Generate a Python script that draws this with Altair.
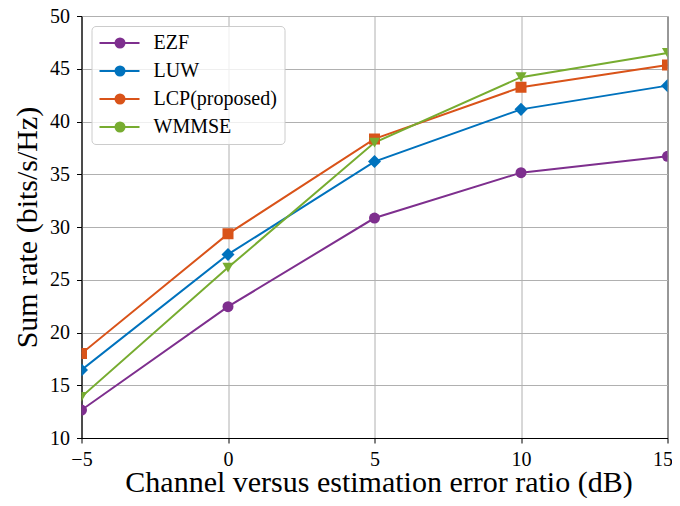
import altair as alt
import pandas as pd
import json

x_vals = [-5, 0, 5, 10, 15]
series_names = ["EZF", "LUW", "LCP(proposed)", "WMMSE"]
ezf = [12.65, 22.45, 30.85, 35.15, 36.7]
luw = [16.45, 27.4, 36.2, 41.15, 43.4]
lcp = [18.0, 29.35, 38.35, 43.25, 45.35]
wmmse = [13.9, 26.15, 38.0, 44.2, 46.5]
y_ticks = [10, 15, 20, 25, 30, 35, 40, 45, 50]

colors = ["#7E2F8E", "#0072BD", "#D95319", "#77AC30"]
shapes = ["circle", "diamond", "square", "triangle-down"]
marker_sizes = [121, 170, 121, 125]
series_ids = ["s%d" % i for i in range(len(series_names))]

rows = []
for name, vals in zip(series_names, [ezf, luw, lcp, wmmse]):
    for xv, yv in zip(x_vals, vals):
        rows.append({"x": xv, "y": yv, "series": name})
df = pd.DataFrame(rows)

FONT = "Liberation Serif"

# legend A: line samples, labels and frame
legend_lines = alt.Legend(
    title=None,
    orient="none",
    legendX=10,
    legendY=10,
    symbolType="stroke",
    symbolSize=1600,
    symbolStrokeWidth=2,
    clipHeight=20,
    rowPadding=8,
    padding=7,
    labelOffset=13,
    labelFont=FONT,
    labelFontSize=20,
    labelColor="black",
    cornerRadius=4,
    strokeColor="#cccccc",
    fillColor="rgba(255,255,255,0.8)",
    zindex=1,
)

# legend B: markers only (labels empty), drawn on top of legend A
legend_marks = alt.Legend(
    title=None,
    orient="none",
    legendX=28.5,
    legendY=17,
    symbolSize=121,
    symbolOpacity=1,
    clipHeight=20,
    rowPadding=8,
    padding=0,
    labelOffset=0,
    labelFontSize=20,
    labelExpr="''",
    zindex=2,
)

base = alt.Chart(df).encode(
    x=alt.X(
        "x:Q",
        scale=alt.Scale(domain=[-5, 15], nice=False, zero=False),
        axis=alt.Axis(
            values=x_vals,
            title="Channel versus estimation error ratio (dB)",
            labelPadding=6,
            labelOffset={"condition": {"test": "datum.value == 15", "value": -5}, "value": 0},
            titleX=297,
            titleY=53,
            titleBaseline="alphabetic",
        ),
    ),
    y=alt.Y(
        "y:Q",
        scale=alt.Scale(domain=[10, 50], nice=False, zero=False),
        axis=alt.Axis(
            values=y_ticks,
            title="Sum rate (bits/s/Hz)",
            labelPadding=7,
            titleX=-45,
            titleY=211,
            titleAngle=270,
            titleAlign="center",
            titleBaseline="alphabetic",
        ),
    ),
)

lines = base.mark_line(strokeWidth=2, clip=True).encode(
    color=alt.Color("series:N", scale=alt.Scale(domain=series_names, range=colors), legend=legend_lines)
)
points = (
    base.transform_calculate(
        sid="'s' + indexof(" + json.dumps(series_names) + ", datum.series)"
    )
    .mark_point(filled=True, opacity=1, clip=True)
    .encode(
        fill=alt.Fill("sid:N", sort=series_ids, scale=alt.Scale(range=colors), legend=legend_marks),
        shape=alt.Shape("sid:N", sort=series_ids, scale=alt.Scale(range=shapes), legend=None),
        size=alt.Size("sid:N", sort=series_ids, scale=alt.Scale(type="ordinal", range=marker_sizes), legend=None),
    )
)

chart = (
    alt.layer(lines, points)
    .properties(
        width=586,
        height=422,
        padding={"left": 73.5, "top": 8, "right": 4.5, "bottom": 60},
        autosize=alt.AutoSizeParams(type="none"),
    )
    .configure_view(stroke="black", strokeWidth=1)
    .configure_axis(
        domainColor="black",
        domainWidth=1,
        tickColor="black",
        tickSize=5,
        tickWidth=1,
        labelFont=FONT,
        labelFontSize=20,
        labelColor="black",
        labelFlush=False,
        labelOverlap=False,
        titleFont=FONT,
        titleFontSize=30,
        titleFontWeight="normal",
        titleColor="black",
        gridColor="#b0b0b0",
        gridWidth=1,
        gridOpacity=1,
    )
)

chart.save("out.html", embed_options={"renderer": "svg", "actions": False})
